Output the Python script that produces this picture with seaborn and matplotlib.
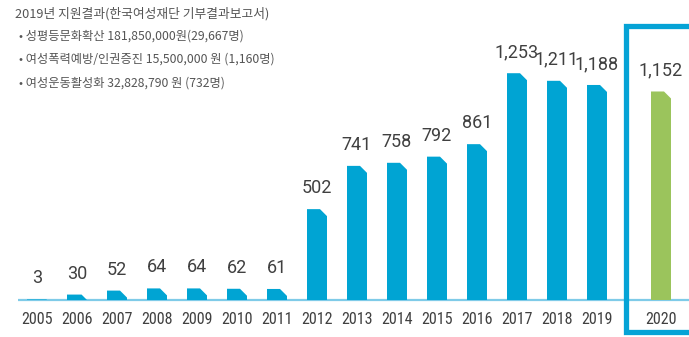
import numpy as np
import pandas as pd
import matplotlib
matplotlib.use("Agg")
import matplotlib.pyplot as plt
from matplotlib.patches import Polygon, Rectangle
from matplotlib import font_manager
from matplotlib.font_manager import FontProperties
import seaborn as sns

# Annual number of supported people (2005-2020)
years = [2005, 2006, 2007, 2008, 2009, 2010, 2011, 2012, 2013, 2014,
         2015, 2016, 2017, 2018, 2019, 2020]
values = [3, 30, 52, 64, 64, 62, 61, 502, 741, 758, 792, 861, 1253, 1211, 1188, 1152]

title_line = "2019년 지원결과(한국여성재단 기부결과보고서)"
detail_lines = [
    "• 성평등문화확산 181,850,000원(29,667명)",
    "• 여성폭력예방/인권증진 15,500,000 원 (1,160명)",
    "• 여성운동활성화 32,828,790 원 (732명)",
]

BLUE = "#00a4d3"
GREEN = "#9bc45c"
FRAME = "#05a3d6"
BASE = "#7fcbe8"
TEXT = "#404040"

sns.set_theme(style="white")
plt.rcParams["font.family"] = ["Roboto", "DejaVu Sans"]


def pick_narrow():
    """Find a narrow sans face for the year labels."""
    files = [f.fname for f in font_manager.fontManager.ttflist]
    for key in ["LiberationSansNarrow-Regular", "RobotoCondensed-Regular",
                "RobotoCondensed", "DejaVuSansCondensed.ttf", "DejaVuSansCondensed"]:
        for fn in files:
            if key in fn.replace(" ", ""):
                return FontProperties(fname=fn), key
    return FontProperties(family="Roboto"), "Roboto"


year_fp, year_key = pick_narrow()
year_size = {"LiberationSansNarrow-Regular": 11.5, "RobotoCondensed-Regular": 11.5,
             "RobotoCondensed": 11.5}.get(year_key, 9.8)
year_fp.set_size(year_size)

# Latest year stands apart from the rest
pos = np.arange(len(years), dtype=float)
pos[-1] += 0.6
df = pd.DataFrame({
    "pos": pos,
    "year": years,
    "value": values,
    "group": ["past"] * (len(years) - 1) + ["current"],
})

W, H = 689, 337
fig = plt.figure(figsize=(W / 100, H / 100), dpi=100)
ax = fig.add_axes([0, 0, 1, 1])

px_per_x = 40.0
px_per_y = 0.181
x0_px, base_px = 37.0, 300.0
ax.set_xlim(-x0_px / px_per_x, (W - x0_px) / px_per_x)
ax.set_ylim(-(H - base_px) / px_per_y, base_px / px_per_y)

sns.barplot(data=df, x="pos", y="value", hue="group",
            palette={"past": BLUE, "current": GREEN},
            native_scale=True, width=0.5, dodge=False, legend=False,
            ax=ax, linewidth=0, saturation=1)

# Replace rectangles with bars whose top-right corner is clipped
cut_px = 7.0
cut_x = cut_px / px_per_x
cut_y = cut_px / px_per_y
for p in list(ax.patches):
    if not isinstance(p, Rectangle):
        continue
    x, y, w, h = p.get_x(), p.get_y(), p.get_width(), p.get_height()
    if h <= 0:
        continue
    cy = min(cut_y, h)
    cx = cut_x * cy / cut_y
    verts = [(x, y), (x, y + h), (x + w - cx, y + h), (x + w, y + h - cy), (x + w, y)]
    ax.add_patch(Polygon(verts, closed=True, facecolor=p.get_facecolor(),
                         edgecolor="none", zorder=3))
    p.set_visible(False)

# Baseline
ax.plot([-(x0_px - 18) / px_per_x, (W - x0_px) / px_per_x], [0, 0],
        color=BASE, lw=1.6, zorder=2, solid_capstyle="butt")

# Value labels and year labels
for xp, yr, v in zip(pos, years, values):
    ax.annotate(f"{v:,}", (xp, v), xytext=(0, 11.5), textcoords="offset points",
                ha="center", va="baseline", fontsize=13, color=TEXT,
                fontweight="normal", zorder=5)
    ax.annotate(str(yr), (xp, 0), xytext=(0, -17.5), textcoords="offset points",
                ha="center", va="baseline", fontproperties=year_fp, color=TEXT,
                zorder=5)

# Frame around the latest year
fx = lambda px: (px - x0_px) / px_per_x
fy = lambda py: (base_px - py) / px_per_y
ax.plot([fx(W + 10), fx(626.5), fx(626.5), fx(W + 10)],
        [fy(25.5), fy(25.5), fy(332), fy(332)],
        color=FRAME, lw=3.8, solid_joinstyle="miter", zorder=4, clip_on=False)

# Summary text block
kfont = ["Noto Sans CJK KR", "DejaVu Sans"]
fig.text(15 / W, 1 - 14 / H, title_line, fontsize=9.2, color="#555555",
         family=kfont, va="center", ha="left", fontweight="light")
for i, line in enumerate(detail_lines):
    fig.text(19 / W, 1 - (36 + 23.5 * i) / H, line, fontsize=8.8, color="#555555",
             family=kfont, va="center", ha="left", fontweight="light")

ax.set_axis_off()
fig.savefig("out.png", dpi=100)
